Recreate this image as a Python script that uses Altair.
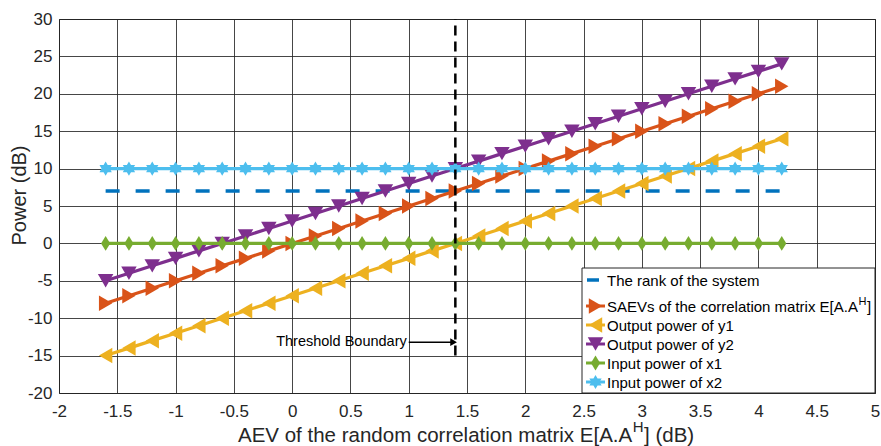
import altair as alt
import pandas as pd

# ---- data ----
xs = [-1.6, -1.4, -1.2, -1.0, -0.8, -0.6, -0.4, -0.2, 0.0, 0.2, 0.4, 0.6, 0.8, 1.0, 1.2,
      1.4, 1.6, 1.8, 2.0, 2.2, 2.4, 2.6, 2.8, 3.0, 3.2, 3.4, 3.6, 3.8, 4.0, 4.2]
rank = [7, 7, 7, 7, 7, 7, 7, 7, 7, 7, 7, 7, 7, 7, 7, 7, 7, 7, 7, 7, 7, 7, 7, 7, 7, 7, 7, 7, 7, 7]
saev = [-8, -7, -6, -5, -4, -3, -2, -1, 0, 1, 2, 3, 4, 5, 6, 7, 8, 9, 10, 11, 12, 13, 14, 15,
        16, 17, 18, 19, 20, 21]
out_y1 = [-15, -14, -13, -12, -11, -10, -9, -8, -7, -6, -5, -4, -3, -2, -1, 0, 1, 2, 3, 4, 5,
          6, 7, 8, 9, 10, 11, 12, 13, 14]
out_y2 = [-5, -4, -3, -2, -1, 0, 1, 2, 3, 4, 5, 6, 7, 8, 9, 10, 11, 12, 13, 14, 15, 16, 17, 18,
          19, 20, 21, 22, 23, 24]
in_x1 = [0, 0, 0, 0, 0, 0, 0, 0, 0, 0, 0, 0, 0, 0, 0, 0, 0, 0, 0, 0, 0, 0, 0, 0, 0, 0, 0, 0, 0, 0]
in_x2 = [10, 10, 10, 10, 10, 10, 10, 10, 10, 10, 10, 10, 10, 10, 10, 10, 10, 10, 10, 10, 10, 10,
         10, 10, 10, 10, 10, 10, 10, 10]

series_names = ["The rank of the system",
                "SAEVs of the correlation matrix E[A.A^H]",
                "Output power of y1",
                "Output power of y2",
                "Input power of x1",
                "Input power of x2"]
series_values = [rank, saev, out_y1, out_y2, in_x1, in_x2]

threshold_x = [1.4]
threshold_y = [-15]
threshold_y2 = [30]
threshold_label = ["Threshold Boundary"]
arrow_x = [1.0]
arrow_x2 = [1.385]
arrow_y = [-13.2]

x_ticks = [-2, -1.5, -1, -0.5, 0, 0.5, 1, 1.5, 2, 2.5, 3, 3.5, 4, 4.5, 5]
y_ticks = [-20, -15, -10, -5, 0, 5, 10, 15, 20, 25, 30]
x_title_parts = ["AEV of the random correlation matrix E[A.A", "H", "] (dB)"]
y_title = "Power (dB)"

# ---- styles ----
colors = ["#0072BD", "#D95319", "#EDB120", "#7E2F8E", "#77AC30", "#4DBEEE"]
DIAMOND = "M0,-1L0.62,0L0,1L-0.62,0Z"
HEXAGRAM = ("M0,-1L0.29,-0.5L0.87,-0.5L0.58,0L0.87,0.5L0.29,0.5L0,1L-0.29,0.5"
            "L-0.87,0.5L-0.58,0L-0.87,-0.5L-0.29,-0.5Z")
shapes = [None, "triangle-right", "triangle-left", "triangle-down", DIAMOND, HEXAGRAM]
msizes = [0, 240, 240, 240, 220, 200]
FONT = "Liberation Sans"
W, H = 816, 374
TXT = "#262626"

xscale = alt.Scale(domain=[-2, 5], nice=False, zero=False)
yscale = alt.Scale(domain=[-20, 30], nice=False, zero=False)

x_axis = alt.Axis(values=x_ticks, grid=True, ticks=False, domain=False,
                  labelExpr="'' + datum.value", labelPadding=10, labelFontSize=17,
                  labelFont=FONT, labelColor=TXT, labelOverlap=False, labelBound=False,
                  labelFlush=False, title=None)
y_axis = alt.Axis(values=y_ticks, grid=True, ticks=False, domain=False,
                  labelExpr="'' + datum.value", labelPadding=7, labelFontSize=17,
                  labelFont=FONT, labelColor=TXT, labelOverlap=False, labelBound=False,
                  labelFlush=False, title=y_title,
                  titleFont=FONT, titleFontSize=20, titleFontWeight="normal",
                  titleColor=TXT, titleBaseline="alphabetic", titleAngle=-90,
                  titleX=-34, titleY=176)


def X(field):
    return alt.X(field, scale=xscale, axis=x_axis)


def Y(field):
    return alt.Y(field, scale=yscale, axis=y_axis)


layers = []
for i, (name, vals) in enumerate(zip(series_names, series_values)):
    df = pd.DataFrame({"x": xs, "y": vals, "series": name})
    if i == 0:
        line = alt.Chart(df).mark_line(color=colors[i], strokeWidth=3.5,
                                       strokeDash=[14, 16]).encode(
            x=X("x:Q"), y=Y("y:Q"))
        layers.append(line)
    else:
        line = alt.Chart(df).mark_line(color=colors[i], strokeWidth=3.2).encode(
            x=X("x:Q"), y=Y("y:Q"))
        pts = alt.Chart(df).mark_point(shape=shapes[i], filled=True, opacity=1,
                                       color=colors[i], size=msizes[i]).encode(
            x=X("x:Q"), y=Y("y:Q"))
        layers += [line, pts]

# threshold line + annotation
thr = pd.DataFrame({"x": threshold_x, "y": threshold_y, "y2": threshold_y2})
layers.append(alt.Chart(thr).mark_rule(color="black", strokeWidth=2.5,
                                       strokeDash=[10, 6]).encode(
    x=X("x:Q"), y=Y("y:Q"), y2="y2:Q"))
arr = pd.DataFrame({"x": arrow_x, "x2": arrow_x2, "y": arrow_y,
                    "label": threshold_label})
layers.append(alt.Chart(arr).mark_rule(color="black", strokeWidth=1.5).encode(
    x=X("x:Q"), x2="x2:Q", y=Y("y:Q")))
layers.append(alt.Chart(arr).mark_point(shape="triangle-right", filled=True, opacity=1,
                                        color="black", size=60).encode(
    x=X("x2:Q"), y=Y("y:Q")))
layers.append(alt.Chart(arr).mark_text(align="right", baseline="middle", dx=-2,
                                       font=FONT, fontSize=14.5, color="black").encode(
    x=X("x:Q"), y=Y("y:Q"), text="label:N"))

one = pd.DataFrame({"a": [0]})


def txt(s, x, y, size, color="black", align="left"):
    return alt.Chart(one).mark_text(align=align, baseline="alphabetic", font=FONT,
                                    fontSize=size, color=color).encode(
        x=alt.value(x), y=alt.value(y), text=alt.value(s))


# ---- x axis title with superscript (pixel layout) ----
TF = 20.5
tx0, tby = 179, 423
w1 = 19.23 * TF
layers.append(txt(x_title_parts[0], tx0, tby, TF, TXT))
layers.append(txt(x_title_parts[1], tx0 + w1 + 0.5, tby - 10, 15, TXT))
layers.append(txt(x_title_parts[2], tx0 + w1 + 0.5 + 0.722 * 15 + 0.5, tby, TF, TXT))

# ---- legend box (layout in pixels of the plot area) ----
LX0, LX1, LY0, LY1 = 523, 816, 249, 374
layers.append(alt.Chart(one).mark_rect(fill="white", stroke=TXT,
                                       strokeWidth=1).encode(
    x=alt.value(LX0), x2=alt.value(LX1), y=alt.value(LY0), y2=alt.value(LY1)))
row_y = [261, 287, 306, 325, 344, 363]
LF = 15
for i, name in enumerate(series_names):
    ry = row_y[i]
    if i == 0:
        layers.append(alt.Chart(one).mark_rule(color=colors[i], strokeWidth=3.5).encode(
            x=alt.value(528), x2=alt.value(540), y=alt.value(ry)))
    else:
        layers.append(alt.Chart(one).mark_rule(color=colors[i], strokeWidth=3).encode(
            x=alt.value(527), x2=alt.value(546), y=alt.value(ry)))
        layers.append(alt.Chart(one).mark_point(shape=shapes[i], filled=True, opacity=1,
                                                color=colors[i], size=msizes[i]).encode(
            x=alt.value(536.5), y=alt.value(ry)))
    base = ry + 6
    if "^H" in name:
        main, rest = name.split("^H")
        wm = 16.729 * LF
        layers.append(txt(main, 548, base, LF))
        layers.append(txt("H", 548 + wm + 0.5, base - 7, 11))
        layers.append(txt(rest, 548 + wm + 0.5 + 0.722 * 11 + 0.5, base, LF))
    else:
        layers.append(txt(name, 548, base, LF))

chart = alt.layer(*layers).properties(
    width=W, height=H,
    autosize=alt.AutoSizeParams(type="none"),
    padding={"left": 59, "top": 19, "right": 6, "bottom": 53},
    background="white",
).configure_view(stroke=TXT, strokeWidth=1).configure_axis(
    gridColor=TXT, gridOpacity=0.85, gridWidth=1)

chart.save("out.html", embed_options={"renderer": "svg", "actions": False})
